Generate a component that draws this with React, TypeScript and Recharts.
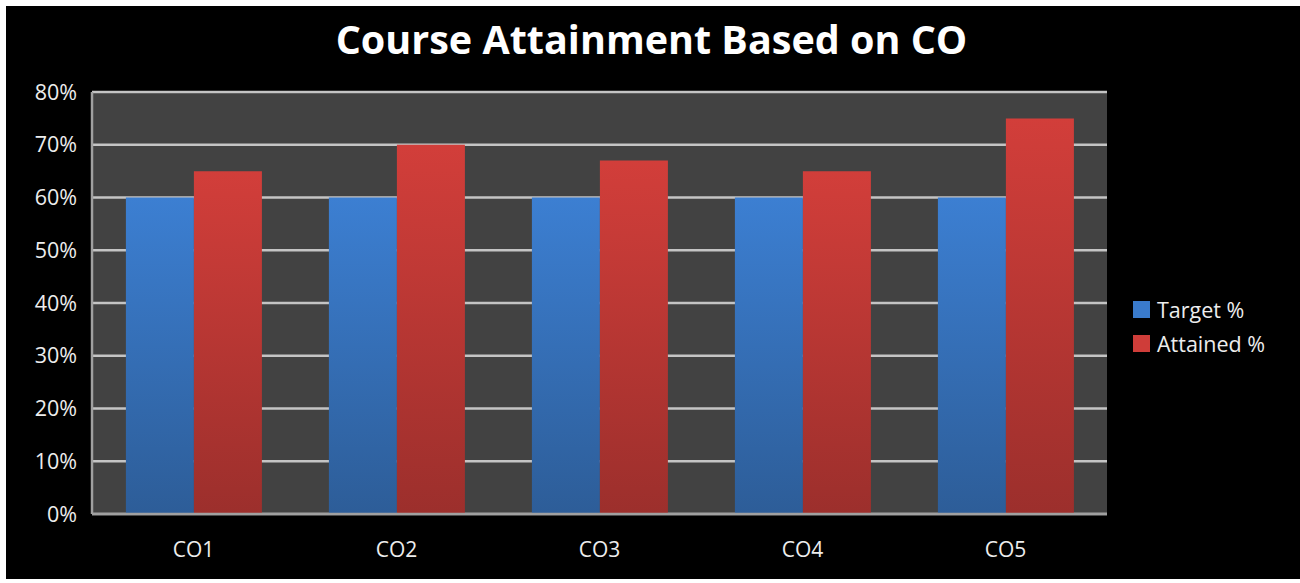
import React from "react";
import { BarChart, Bar, XAxis, YAxis, CartesianGrid } from "recharts";

// Course outcome categories and the two series drawn for each
const categories = ["CO1", "CO2", "CO3", "CO4", "CO5"];
const targetPct = [60, 60, 60, 60, 60];
const attainedPct = [65, 70, 67, 65, 75];
const yTicks = [0, 10, 20, 30, 40, 50, 60, 70, 80];
const seriesNames = ["Target %", "Attained %"];

const data = categories.map((c, i) => ({
  name: c,
  target: targetPct[i],
  attained: attainedPct[i],
}));

const FONT = "'Open Sans', 'Noto Sans', sans-serif";
const TEXT = "#EDEDED";

const legendItems = [
  { label: seriesNames[0], color: "#3A7BCC" },
  { label: seriesNames[1], color: "#CF3D39" },
];

export default function App() {
  return (
    <div
      style={{
        position: "absolute",
        left: 0,
        top: 0,
        width: 1300,
        height: 583,
        background: "#FFFFFF",
        overflow: "hidden",
      }}
    >
      <div
        style={{
          position: "absolute",
          left: 6,
          top: 6,
          width: 1294,
          height: 573,
          background: "#000000",
          fontFamily: FONT,
        }}
      >
        <div
          style={{
            position: "absolute",
            left: 0,
            top: 7,
            width: 1291,
            textAlign: "center",
            color: "#FFFFFF",
            fontWeight: 700,
            fontSize: 39.5,
            lineHeight: "52px",
          }}
        >
          Course Attainment Based on CO
        </div>

        <BarChart
          width={1294}
          height={573}
          data={data}
          margin={{ top: 86, right: 193, bottom: 0, left: 0 }}
          barCategoryGap="16.7%"
          barGap={0}
        >
          <defs>
            <linearGradient id="gradTarget" x1="0" y1="0" x2="0" y2="1">
              <stop offset="0%" stopColor="#3C7FD2" />
              <stop offset="100%" stopColor="#2D5D98" />
            </linearGradient>
            <linearGradient id="gradAttained" x1="0" y1="0" x2="0" y2="1">
              <stop offset="0%" stopColor="#D23E3A" />
              <stop offset="100%" stopColor="#9C2F2C" />
            </linearGradient>
          </defs>
          <CartesianGrid
            vertical={false}
            stroke="#C4C4C4"
            strokeWidth={2.5}
            fill="#424242"
            fillOpacity={1}
          />
          <XAxis
            dataKey="name"
            height={65}
            tickLine={false}
            tickMargin={22}
            axisLine={{ stroke: "#A0A0A0", strokeWidth: 2.5 }}
            tick={{ fill: TEXT, fontSize: 21, fontFamily: FONT }}
          />
          <YAxis
            width={86}
            domain={[0, 80]}
            ticks={yTicks}
            interval={0}
            tickFormatter={(v: number) => `${v}%`}
            tickLine={false}
            tickMargin={9}
            axisLine={{ stroke: "#A0A0A0", strokeWidth: 2.5 }}
            tick={{ fill: TEXT, fontSize: 21.5, fontFamily: FONT }}
          />
          <Bar
            dataKey="target"
            name={seriesNames[0]}
            fill="url(#gradTarget)"
            isAnimationActive={false}
          />
          <Bar
            dataKey="attained"
            name={seriesNames[1]}
            fill="url(#gradAttained)"
            isAnimationActive={false}
          />
        </BarChart>

        <div style={{ position: "absolute", left: 1127, top: 286 }}>
          {legendItems.map((it) => (
            <div
              key={it.label}
              style={{
                display: "flex",
                alignItems: "center",
                height: 34,
                color: TEXT,
                fontSize: 21.5,
              }}
            >
              <span
                style={{
                  display: "inline-block",
                  width: 17,
                  height: 17,
                  background: it.color,
                  marginRight: 7,
                }}
              />
              {it.label}
            </div>
          ))}
        </div>
      </div>
    </div>
  );
}
